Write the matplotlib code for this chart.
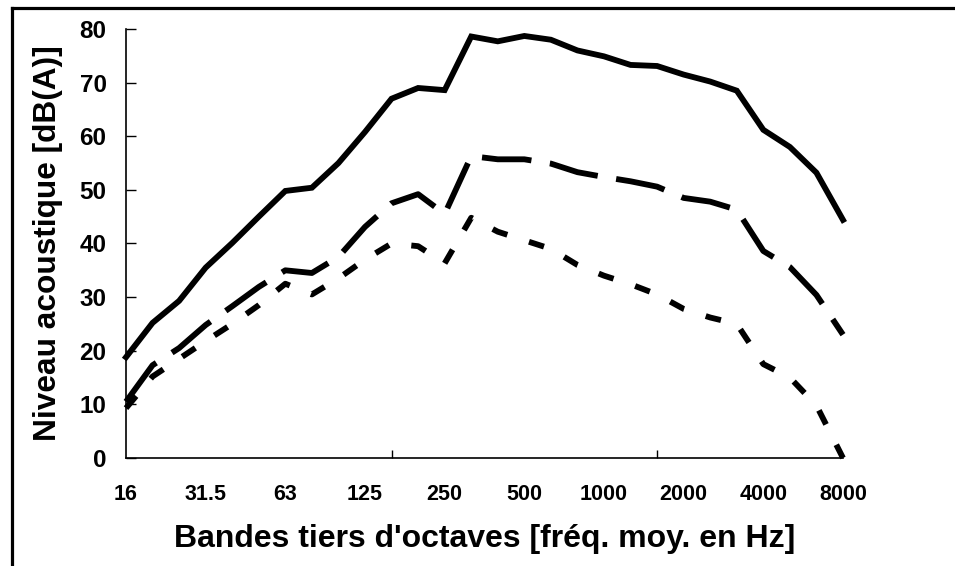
import matplotlib.pyplot as plt
from matplotlib.lines import Line2D
import numpy as np

plt.rcParams['font.family'] = ['Liberation Sans', 'DejaVu Sans']
plt.rcParams['font.weight'] = 'bold'

# third-octave bands, 16 Hz .. 8000 Hz
bands = ['16', '20', '25', '31.5', '40', '50', '63', '80', '100', '125', '160', '200',
         '250', '315', '400', '500', '630', '800', '1000', '1250', '1600', '2000',
         '2500', '3150', '4000', '5000', '6300', '8000']
shown = ['16', '31.5', '63', '125', '250', '500', '1000', '2000', '4000', '8000']

level_solid = [18.8, 25.2, 29.3, 35.5, 40.1, 45.0, 49.8, 50.4, 55.0, 60.8, 67.0, 69.0,
               68.6, 78.6, 77.7, 78.7, 78.0, 76.0, 74.9, 73.3, 73.1, 71.5, 70.2, 68.5,
               61.2, 58.0, 53.2, 44.4]
level_long = [10.5, 17.3, 20.5, 24.8, 28.3, 31.9, 35.0, 34.5, 37.5, 43.1, 47.5, 49.2,
              45.5, 56.3, 55.7, 55.7, 54.9, 53.3, 52.4, 51.6, 50.6, 48.5, 47.8, 46.3,
              38.6, 35.6, 30.4, 23.0]
level_short = [9.3, 15.2, 18.5, 21.8, 25.0, 28.5, 32.5, 30.5, 33.5, 37.0, 40.0, 39.5,
               36.3, 44.8, 42.2, 40.6, 39.0, 36.0, 34.0, 32.4, 30.5, 27.8, 26.2, 25.0,
               17.5, 15.0, 9.8, 0.0]

W, H = 955, 566
fig = plt.figure(figsize=(W / 100, H / 100), dpi=100)
ax = fig.add_axes([126 / W, 1 - 458 / H, 717 / W, 429 / H])

x = np.arange(len(bands))
lw = 4.2
ax.plot(x, level_solid, color='black', lw=lw, solid_joinstyle='miter', clip_on=False)
ax.plot(x, level_long, color='black', lw=lw, linestyle=(0, (8.5, 3.2)),
        dash_capstyle='butt', clip_on=False)
ax.plot(x, level_short, color='black', lw=lw, linestyle=(0, (2.7, 3.9)),
        dash_capstyle='butt', clip_on=False)

ax.set_xlim(0, len(bands) - 1)
ax.set_ylim(0, 80)
ax.set_yticks(range(0, 81, 10))

# labels on every octave, tick marks every 10 bands
ax.set_xticks([bands.index(s) for s in shown])
ax.set_xticklabels(shown)
ax.set_xticks([10, 20], minor=True)
ax.tick_params(axis='x', which='major', length=0, pad=18.5, labelsize=15.5)
ax.tick_params(axis='x', which='minor', direction='in', length=6, width=1)
ax.tick_params(axis='y', direction='in', length=7.5, width=1, pad=14, labelsize=17.5)

for s in ['top', 'right']:
    ax.spines[s].set_visible(False)
for s in ['left', 'bottom']:
    ax.spines[s].set_linewidth(1.2)

fig.text(48 / W, 1 - 243 / H, 'Niveau acoustique [dB(A)]', rotation=90,
         fontsize=22.8, fontweight='bold', ha='center', va='center')
fig.text(484.5 / W, 1 - 539 / H, "Bandes tiers d'octaves [fréq. moy. en Hz]",
         fontsize=23, fontweight='bold', ha='center', va='center')

# outer frame, partly cut off by the image edges
fig.add_artist(Line2D([11.5 / W, 11.5 / W], [0, 1 - 8 / H], color='black', lw=2.3,
                      transform=fig.transFigure, solid_capstyle='projecting'))
fig.add_artist(Line2D([11.5 / W, 1], [1 - 8 / H, 1 - 8 / H], color='black', lw=2.3,
                      transform=fig.transFigure, solid_capstyle='projecting'))

fig.savefig('out.png', dpi=100)
